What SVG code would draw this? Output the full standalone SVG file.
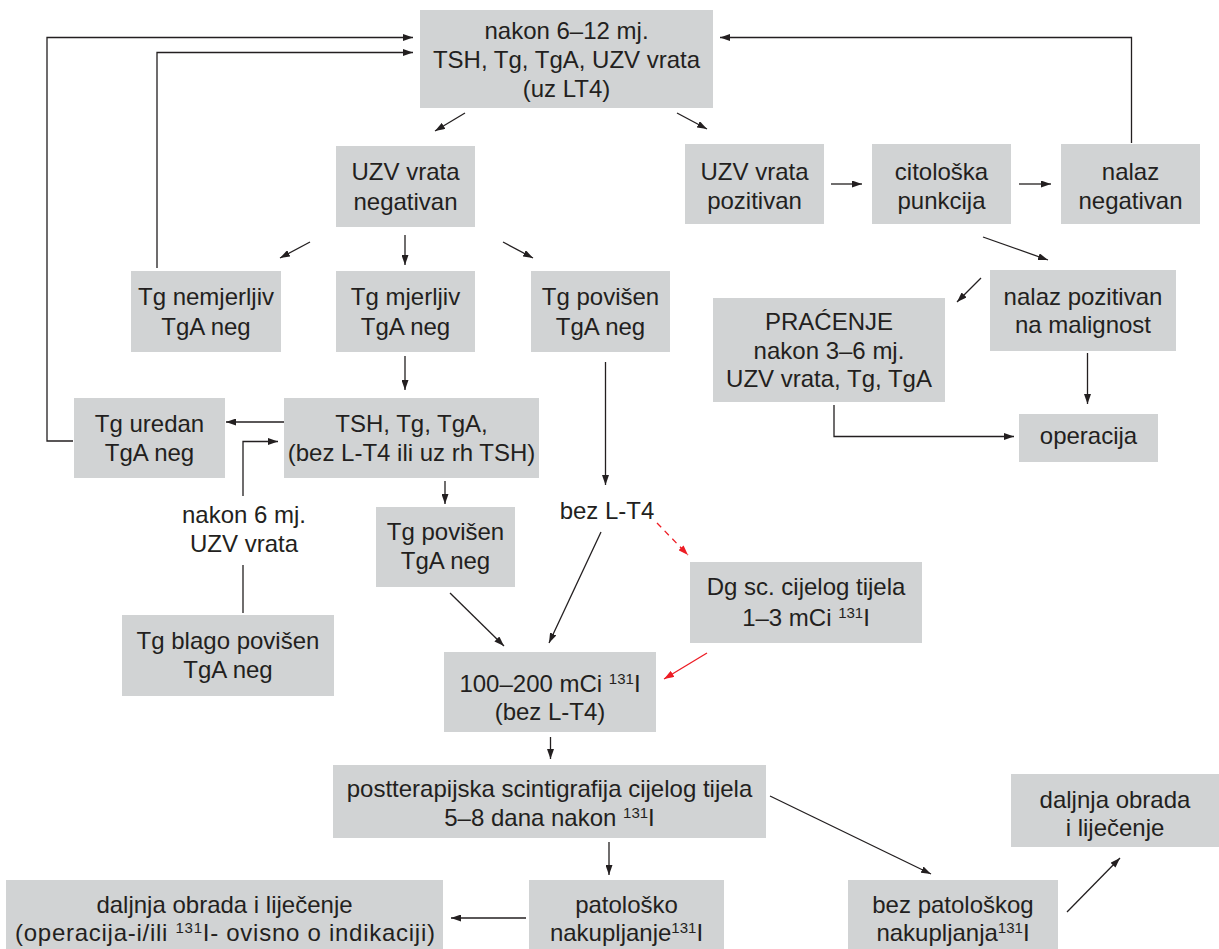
<svg xmlns="http://www.w3.org/2000/svg" width="1219" height="949" viewBox="0 0 1219 949">
<style>
.box{fill:#d1d3d4}
.t{font-family:"Liberation Sans",Arial,Helvetica,sans-serif;font-size:24px;fill:#231f20;text-anchor:middle}
.sup{font-size:15px}
.ln{fill:none;stroke:#231f20;stroke-width:1.3}
.arr{fill:none;stroke:#231f20;stroke-width:1.3;marker-end:url(#ah)}
.red{fill:none;stroke:#ed1c24;stroke-width:1.3;marker-end:url(#ahr)}
</style>
<defs>
<marker id="ah" viewBox="0 0 10 7" refX="10" refY="3.5" markerWidth="10" markerHeight="7" markerUnits="userSpaceOnUse" orient="auto">
<path d="M0,0 L10,3.5 L0,7 z" fill="#231f20"/>
</marker>
<marker id="ahr" viewBox="0 0 10 7" refX="10" refY="3.5" markerWidth="10" markerHeight="7" markerUnits="userSpaceOnUse" orient="auto">
<path d="M0,0 L10,3.5 L0,7 z" fill="#ed1c24"/>
</marker>
</defs>
<rect width="1219" height="949" fill="#ffffff"/>

<g id="connectors">
<polyline class="arr" points="73,441 47,441 47,37.5 413,37.5"/>
<polyline class="arr" points="157,268 157,52.5 413,52.5"/>
<polyline class="arr" points="1131.5,143 1131.5,37.5 720,37.5"/>
<line class="arr" x1="465" y1="113" x2="435" y2="131"/>
<line class="arr" x1="677" y1="113" x2="707" y2="129"/>
<line class="arr" x1="310" y1="242" x2="280" y2="258"/>
<line class="arr" x1="405" y1="235" x2="405" y2="265"/>
<line class="arr" x1="503" y1="242" x2="533" y2="258"/>
<line class="arr" x1="831" y1="184" x2="862" y2="184"/>
<line class="arr" x1="1019" y1="184" x2="1051" y2="184"/>
<line class="arr" x1="983" y1="237" x2="1048" y2="260"/>
<line class="arr" x1="981" y1="278" x2="957" y2="302"/>
<line class="arr" x1="1087.5" y1="353" x2="1087.5" y2="404"/>
<polyline class="arr" points="834,405 834,436.5 1014,436.5"/>
<line class="arr" x1="405" y1="356" x2="405" y2="390"/>
<line class="arr" x1="284" y1="422" x2="226" y2="422"/>
<polyline class="arr" points="243,496 243,441.5 278,441.5"/>
<line class="ln" x1="243" y1="613" x2="243" y2="565"/>
<line class="arr" x1="445" y1="481" x2="445" y2="504"/>
<line class="arr" x1="605.5" y1="362" x2="605.5" y2="485"/>
<line class="arr" x1="601" y1="532" x2="549" y2="643"/>
<line class="arr" x1="450" y1="593" x2="504" y2="646"/>
<line class="red" x1="657" y1="523" x2="688" y2="555" stroke-dasharray="6,5"/>
<line class="red" x1="707" y1="653" x2="664" y2="679"/>
<line class="arr" x1="550.5" y1="737" x2="550.5" y2="759"/>
<line class="arr" x1="609" y1="842" x2="609" y2="875"/>
<line class="arr" x1="526" y1="918" x2="451" y2="918"/>
<line class="arr" x1="770" y1="796" x2="931" y2="874"/>
<line class="arr" x1="1067" y1="912" x2="1120" y2="858"/>
</g>

<g id="n-top">
<rect class="box" x="420" y="10" width="293" height="98"/>
<text class="t" x="566.5" y="39">nakon 6–12 mj.</text>
<text class="t" x="566.5" y="68">TSH, Tg, TgA, UZV vrata</text>
<text class="t" x="566.5" y="97">(uz LT4)</text>
</g>

<g id="n-uzv-neg">
<rect class="box" x="336" y="146" width="139" height="81"/>
<text class="t" x="405.5" y="180">UZV vrata</text>
<text class="t" x="405.5" y="210">negativan</text>
</g>

<g id="n-uzv-poz">
<rect class="box" x="685" y="144" width="139" height="80"/>
<text class="t" x="754.5" y="180">UZV vrata</text>
<text class="t" x="754.5" y="209">pozitivan</text>
</g>

<g id="n-citoloska">
<rect class="box" x="872" y="144" width="139" height="80"/>
<text class="t" x="941.5" y="180">citološka</text>
<text class="t" x="941.5" y="209">punkcija</text>
</g>

<g id="n-nalaz-neg">
<rect class="box" x="1061" y="144" width="139" height="80"/>
<text class="t" x="1130.5" y="180">nalaz</text>
<text class="t" x="1130.5" y="209">negativan</text>
</g>

<g id="n-tg-nemjerljiv">
<rect class="box" x="131" y="271" width="150" height="81"/>
<text class="t" x="206" y="305">Tg nemjerljiv</text>
<text class="t" x="206" y="335">TgA neg</text>
</g>

<g id="n-tg-mjerljiv">
<rect class="box" x="336" y="271" width="139" height="81"/>
<text class="t" x="405.5" y="305">Tg mjerljiv</text>
<text class="t" x="405.5" y="335">TgA neg</text>
</g>

<g id="n-tg-povisen-1">
<rect class="box" x="531" y="271" width="139" height="81"/>
<text class="t" x="600.5" y="305">Tg povišen</text>
<text class="t" x="600.5" y="335">TgA neg</text>
</g>

<g id="n-nalaz-poz">
<rect class="box" x="990" y="270" width="186" height="81"/>
<text class="t" x="1083" y="305">nalaz pozitivan</text>
<text class="t" x="1083" y="333">na malignost</text>
</g>

<g id="n-pracenje">
<rect class="box" x="713" y="298" width="232" height="104"/>
<text class="t" x="829" y="330">PRAĆENJE</text>
<text class="t" x="829" y="358.5">nakon 3–6 mj.</text>
<text class="t" x="829" y="387">UZV vrata, Tg, TgA</text>
</g>

<g id="n-operacija">
<rect class="box" x="1019" y="414" width="139" height="48"/>
<text class="t" x="1088.5" y="444">operacija</text>
</g>

<g id="n-tg-uredan">
<rect class="box" x="74" y="398" width="151" height="80"/>
<text class="t" x="149.5" y="431.5">Tg uredan</text>
<text class="t" x="149.5" y="461">TgA neg</text>
</g>

<g id="n-tsh">
<rect class="box" x="284" y="398" width="255" height="80"/>
<text class="t" x="411.5" y="431.5">TSH, Tg, TgA,</text>
<text class="t" x="411.5" y="461">(bez L-T4 ili uz rh TSH)</text>
</g>

<g id="n-nakon-6">
<text class="t" x="244" y="523">nakon 6 mj.</text>
<text class="t" x="244" y="552">UZV vrata</text>
</g>

<g id="n-bez-lt4">
<text class="t" x="607" y="519">bez L-T4</text>
</g>

<g id="n-tg-povisen-2">
<rect class="box" x="376" y="507" width="139" height="80"/>
<text class="t" x="445.5" y="540">Tg povišen</text>
<text class="t" x="445.5" y="569">TgA neg</text>
</g>

<g id="n-dg-sc">
<rect class="box" x="690" y="562" width="232" height="81"/>
<text class="t" x="806" y="595">Dg sc. cijelog tijela</text>
<text class="t" x="806" y="626">1–3 mCi <tspan class="sup" dy="-8">131</tspan><tspan dy="8">I</tspan></text>
</g>

<g id="n-tg-blago">
<rect class="box" x="122" y="615" width="212" height="81"/>
<text class="t" x="228" y="649">Tg blago povišen</text>
<text class="t" x="228" y="678">TgA neg</text>
</g>

<g id="n-100-200">
<rect class="box" x="444" y="652" width="212" height="80"/>
<text class="t" x="550" y="692">100–200 mCi <tspan class="sup" dy="-8">131</tspan><tspan dy="8">I</tspan></text>
<text class="t" x="550" y="720">(bez L-T4)</text>
</g>

<g id="n-postterapijska">
<rect class="box" x="333" y="765" width="433" height="73"/>
<text class="t" x="549.5" y="797">postterapijska scintigrafija cijelog tijela</text>
<text class="t" x="549.5" y="826">5–8 dana nakon <tspan class="sup" dy="-8">131</tspan><tspan dy="8">I</tspan></text>
</g>

<g id="n-daljnja-right">
<rect class="box" x="1011" y="774" width="208" height="73"/>
<text class="t" x="1115" y="808">daljnja obrada</text>
<text class="t" x="1115" y="836">i liječenje</text>
</g>

<g id="n-daljnja-left">
<rect class="box" x="6" y="880" width="437" height="69"/>
<text class="t" x="224.5" y="913">daljnja obrada i liječenje</text>
<text class="t" x="225" y="941" textLength="420" lengthAdjust="spacing">(operacija-i/ili <tspan class="sup" dy="-8">131</tspan><tspan dy="8">I- ovisno o indikaciji)</tspan></text>
</g>

<g id="n-patolosko">
<rect class="box" x="529" y="880" width="195" height="69"/>
<text class="t" x="626.5" y="913">patološko</text>
<text class="t" x="626.5" y="941">nakupljanje<tspan class="sup" dy="-8">131</tspan><tspan dy="8">I</tspan></text>
</g>

<g id="n-bez-patoloskog">
<rect class="box" x="848" y="880" width="210" height="69"/>
<text class="t" x="953" y="913">bez patološkog</text>
<text class="t" x="953" y="941">nakupljanja<tspan class="sup" dy="-8">131</tspan><tspan dy="8">I</tspan></text>
</g>
</svg>
